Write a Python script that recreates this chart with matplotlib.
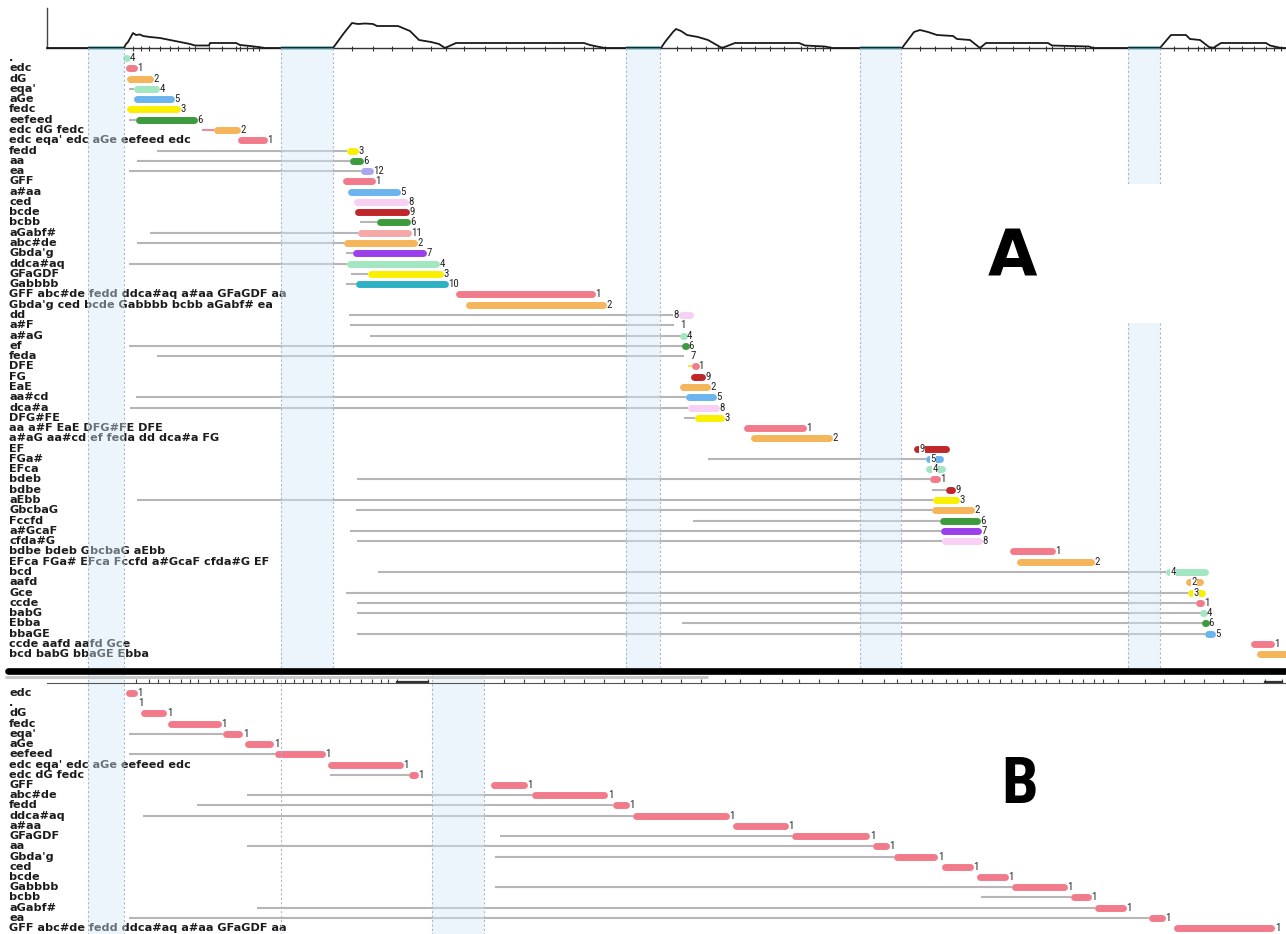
import matplotlib
matplotlib.use("Agg")
import matplotlib.pyplot as plt

W, H = 1286, 934

############################### Profil du haut (x en px, hauteur au-dessus de la ligne de base)
prof_x = [47, 124, 126, 128, 133, 136, 140, 143, 150, 160, 175, 190, 195, 209, 210, 236, 240, 250, 258, 265,
          333, 344, 352, 358, 365, 373, 377, 398, 410, 415, 419, 431, 439, 445, 456, 584, 590, 597, 605,
          661, 665, 673, 676, 681, 687, 698, 708, 722, 735, 799, 805, 825, 832,
          902, 914, 920, 928, 937, 953, 957, 970, 980, 986, 1048, 1052, 1089, 1093,
          1160, 1165, 1171, 1186, 1190, 1200, 1209, 1213, 1221, 1266, 1270, 1281, 1286]
prof_h = [0, 0, 4, 6, 15, 13, 13.5, 12, 11, 10, 7, 4, 2.5, 2.5, 5, 5, 3, 2, 1, 0,
          0, 15, 25, 24, 24.5, 24, 22, 22, 17, 12, 8, 6, 4, 0, 5, 5, 3, 1.5, 0,
          0, 6, 16, 19, 17, 13, 11, 8, 0, 5, 5, 2.5, 1.5, 0,
          0, 16, 18, 16, 13, 12, 9, 8, 0, 5, 5, 2.5, 1.5, 0,
          0, 6, 13, 13, 9, 8, 1, 0, 5, 5, 2.5, 0, 0]
prof_ticks = [133, 141, 149, 160, 170, 178, 189, 195, 209, 222, 236, 240, 247, 253, 259,
              352, 373, 392, 412, 431, 446, 464, 485, 506, 524, 545, 564, 584, 593, 605,
              677, 691, 706, 718, 722, 741, 755, 770, 784, 801, 807, 815, 823, 830,
              920, 935, 951, 965, 980, 996, 1013, 1029, 1046, 1052, 1064, 1075, 1085, 1093,
              1174, 1188, 1198, 1204, 1211, 1215, 1229, 1242, 1254, 1266, 1274, 1281]

############################### Zones grisees
zones_a = [(88, 124), (281, 333), (626, 660), (860, 901), (1128, 1160)]
zones_b = [(88, 124), (432, 484)]
dash_a = [88, 124, 281, 333, 626, 660, 860, 901, 1128, 1160]
dash_b = [88, 124, 281, 432, 484]
trou_a = (12.26, 25.78)   # lignes ou la derniere zone est interrompue (autour du A)

############################### Panneau A
labels_a = [".", "edc", "dG", "eqa'", "aGe", "fedc", "eefeed", "edc dG fedc",
            "edc eqa' edc aGe eefeed edc", "fedd", "aa", "ea", "GFF", "a#aa", "ced", "bcde",
            "bcbb", "aGabf#", "abc#de", "Gbda'g", "ddca#aq", "GFaGDF", "Gabbbb",
            "GFF abc#de fedd ddca#aq a#aa GFaGDF aa", "Gbda'g ced bcde Gabbbb bcbb aGabf# ea",
            "dd", "a#F", "a#aG", "ef", "feda", "DFE", "FG", "EaE", "aa#cd", "dca#a", "DFG#FE",
            "aa a#F EaE DFG#FE DFE", "a#aG aa#cd ef feda dd dca#a FG",
            "EF", "FGa#", "EFca", "bdeb", "bdbe", "aEbb", "GbcbaG", "Fccfd", "a#GcaF", "cfda#G",
            "bdbe bdeb GbcbaG aEbb", "EFca FGa# EFca Fccfd a#GcaF cfda#G EF",
            "bcd", "aafd", "Gce", "ccde", "babG", "Ebba", "bbaGE",
            "ccde aafd aafd Gce", "bcd babG bbaGE Ebba"]
line_a = [None, None, None, 129, None, None, 129, 202, None, 157, 137, 129, None, None, None, None,
          360, 150, 137, 346, 129, 351, 346, None, None,
          349, 350, 370, 129, 157, 688, None, None, 136, 130, 684, None, None,
          None, 708, None, 357, 932, 137, 356, 693, 350, 357, None, None,
          378, None, 346, 357, 357, 682, 357, None, None]
start_a = [124.5, 126, 127, 133.5, 134, 127, 135.5, 214, 238, 347, 350, 361, 343, 348, 354, 355,
           377, 358, 344, 353, 347, 368, 356, 456, 466,
           679, 674, 681, 683, 684, 693, 691, 680, 686, 688, 695, 744, 751,
           914, 926, 926, 930, 946, 933, 932, 940, 941, 942, 1010, 1017,
           1166, 1186, 1188, 1196, 1201, 1203, 1205, 1251, 1257]
end_a = [129, 137, 153, 159, 174, 180, 197, 240, 267, 358, 363, 373, 375, 400, 408, 409,
         410, 411, 417, 426, 439, 443, 448, 595, 606,
         693, 680, 686, 688, 690, 698, 705, 710, 716, 719, 724, 806, 832,
         949, 943, 945, 940, 955, 959, 974, 980, 981, 982, 1055, 1094,
         1208, 1203, 1205, 1204, 1206, 1208, 1215, 1274, 1292]
clus_a = [4, 1, 2, 4, 5, 3, 6, 2, 1, 3, 6, 12, 1, 5, 8, 9,
          6, 11, 2, 7, 4, 3, 10, 1, 2,
          8, 1, 4, 6, 7, 1, 9, 2, 5, 8, 3, 1, 2,
          9, 5, 4, 1, 9, 3, 2, 6, 7, 8, 1, 2,
          4, 2, 3, 1, 4, 6, 5, 1, 2]
# position du chiffre quand il est pose sur la barre
num_x_a = {25: 676, 38: 922, 39: 933, 40: 935, 50: 1173, 51: 1194, 52: 1196}

############################### Panneau B
labels_b = ["edc", ".", "dG", "fedc", "eqa'", "aGe", "eefeed", "edc eqa' edc aGe eefeed edc",
            "edc dG fedc", "GFF", "abc#de", "fedd", "ddca#aq", "a#aa", "GFaGDF", "aa", "Gbda'g",
            "ced", "bcde", "Gabbbb", "bcbb", "aGabf#", "ea",
            "GFF abc#de fedd ddca#aq a#aa GFaGDF aa"]
line_b = [None, None, None, None, 129, None, 129, None, 330, None, 247, 197, 143, None, 500, 247,
          495, None, None, 495, 981, 257, 129, None]
start_b = [126, 132, 141, 168, 223, 244.5, 275, 327.5, 409, 491, 532, 612.6, 633, 733, 792, 873,
           894, 941.6, 976.6, 1012, 1071, 1095, 1149, 1173.5]
end_b = [137, 137.6, 166.6, 221, 242.5, 273.6, 325, 403, 418, 527, 607.7, 629, 729, 788, 869.5, 889,
         937.5, 973, 1008, 1067, 1091, 1126, 1165, 1274.5]
clus_b = [1] * len(labels_b)

axe_b_ticks = [136, 149, 158, 169, 181, 190, 198, 210, 218, 227, 236, 245, 254, 263, 277, 285, 294,
               303, 312, 321, 330, 339, 350, 361, 372, 381, 388, 397, 428, 504, 524, 544, 564, 584,
               604, 624, 642, 661, 681, 701, 725, 740, 760, 782, 799, 819, 838, 862, 884, 897, 911,
               922, 932, 946, 957, 967, 978, 989, 1000, 1011, 1022, 1035, 1046, 1059, 1072, 1083,
               1094, 1103, 1118, 1145, 1164, 1184, 1204, 1223, 1243, 1265, 1282]

############################### Styles
couleurs = {1: "#f27b8b", 2: "#f5b55a", 3: "#f9f000", 4: "#a2e6c2", 5: "#6cb4ee", 6: "#3d9a3d",
            7: "#9a3fea", 8: "#f7d0f3", 9: "#c0272a", 10: "#2eb1c2", 11: "#f4a8a8", 12: "#a9a7ef"}
ligne_speciale = {7: "#f08a9a", 30: "#f2e64a"}
GRIS = "#b6b6b6"
OMBRE = "#d3e9f8"
TIRETS = "#a9b9c9"
NARROW = ["Liberation Sans Narrow", "Roboto Condensed", "DejaVu Sans Condensed", "DejaVu Sans"]


def boite(y0, y1):
    """Position d'un axe couvrant les pixels y0..y1 sur toute la largeur."""
    return [0, 1 - y1 / H, 1, (y1 - y0) / H]


def barre(ax, x0, x1, y, col):
    r = 3.4
    if x1 - x0 < 2 * r:
        m = (x0 + x1) / 2
        xs = [m - 0.3, m + 0.3]
    else:
        xs = [x0 + r, x1 - r]
    ax.plot(xs, [y, y], color=col, lw=5.0, solid_capstyle="round", zorder=4)


def panneau(ax, labels, lignes, debuts, fins, clus, num_x, lig_spec):
    for i, lab in enumerate(labels):
        ax.text(9, i, lab, fontsize=8.1, fontweight="bold", color="#1c1c1c",
                ha="left", va="center", zorder=3)
        if lignes[i] is not None:
            ax.plot([lignes[i], debuts[i]], [i, i], color=lig_spec.get(i, GRIS), lw=1.5,
                    solid_capstyle="butt", zorder=2)
        barre(ax, debuts[i], fins[i], i, couleurs[clus[i]])
        if i in num_x:
            ax.text(num_x[i], i, str(clus[i]), fontsize=7.8, family=NARROW, color="#222222",
                    ha="center", va="center", zorder=6,
                    bbox=dict(fc="white", ec="none", pad=0.1))
        else:
            ax.text(fins[i] + 0.5, i, str(clus[i]), fontsize=7.8, family=NARROW,
                    color="#222222", ha="left", va="center", zorder=6)


################################ Figure
fig = plt.figure(figsize=(W / 100, H / 100), dpi=100)
fig.patch.set_facecolor("white")

# ---- profil
ax_top = fig.add_axes(boite(4, 52))
ax_top.set_xlim(0, W)
ax_top.set_ylim(-4, 44)
ax_top.axis("off")
ax_top.plot([47, W], [0, 0], color="#333333", lw=1.0)
for x0, x1 in zones_a:
    ax_top.plot([x0, x1], [0, 0], color="#5cbcc4", lw=2.6, solid_capstyle="butt", zorder=3)
ax_top.plot(prof_x, prof_h, color="#1a1a1a", lw=1.3, zorder=4)
ax_top.vlines(prof_ticks, -3, 2.5, color="#333333", lw=0.8)
ax_top.plot([47, 47], [0, 40], color="#444444", lw=1.0)

# ---- panneau A
ya0, dya = 58, 10.28
ax_a = fig.add_axes(boite(48, 668))
ax_a.set_xlim(0, W)
haut_a, bas_a = (48 - ya0) / dya, (668 - ya0) / dya
ax_a.set_ylim(bas_a, haut_a)
ax_a.axis("off")
for k, (x0, x1) in enumerate(zones_a):
    morceaux = [(haut_a, bas_a)]
    if k == len(zones_a) - 1:
        morceaux = [(haut_a, trou_a[0]), (trou_a[1], bas_a)]
    for y0, y1 in morceaux:
        ax_a.fill_between([x0, x1], y0, y1, color=OMBRE, alpha=0.42, lw=0, zorder=5)
        for x in (x0, x1):
            ax_a.plot([x, x], [y0, y1], color=TIRETS, lw=0.8, ls=(0, (2, 2)), zorder=5)
for x in dash_a:
    if x not in [z for zz in zones_a for z in zz]:
        ax_a.plot([x, x], [haut_a, bas_a], color=TIRETS, lw=0.8, ls=(0, (2, 2)), zorder=5)
panneau(ax_a, labels_a, line_a, start_a, end_a, clus_a, num_x_a, ligne_speciale)
ax_a.text(1012, (277 - ya0) / dya, "A", fontsize=46, fontweight="heavy", color="black",
          ha="center", va="baseline", zorder=7)

# ---- panneau B
yb0, dyb = 693, 10.22
ax_b = fig.add_axes(boite(675, 934))
ax_b.set_xlim(0, W)
haut_b, bas_b = (675 - yb0) / dyb, (934 - yb0) / dyb
ax_b.set_ylim(bas_b, haut_b)
ax_b.axis("off")
for x0, x1 in zones_b:
    ax_b.fill_between([x0, x1], haut_b, bas_b, color=OMBRE, alpha=0.42, lw=0, zorder=5)
for x in dash_b:
    ax_b.plot([x, x], [haut_b, bas_b], color=TIRETS, lw=0.8, ls=(0, (2, 2)), zorder=5)
panneau(ax_b, labels_b, line_b, start_b, end_b, clus_b, {}, {})
ax_b.text(1020, (803 - yb0) / dyb, "B", fontsize=47, fontweight="bold", family=NARROW,
          color="black", ha="center", va="baseline", zorder=7)

# ---- separateur et axe du panneau B
ax_f = fig.add_axes([0, 0, 1, 1])
ax_f.set_xlim(0, W)
ax_f.set_ylim(H, 0)
ax_f.axis("off")
ax_f.plot([8, W + 5], [671, 671], color="black", lw=4.8, solid_capstyle="round")
ax_f.plot([5, 708], [677, 677], color="#c9c9c9", lw=2.2, solid_capstyle="butt")
ax_f.plot([47, W], [683, 683], color="#555555", lw=0.8)
ax_f.vlines(axe_b_ticks, 679, 683, color="#444444", lw=0.8)
ax_f.plot([397, 428], [682, 682], color="#333333", lw=1.6)
ax_f.plot([1265, 1282], [681.5, 681.5], color="#333333", lw=1.6)

fig.savefig("out.png", dpi=100, facecolor="white")
